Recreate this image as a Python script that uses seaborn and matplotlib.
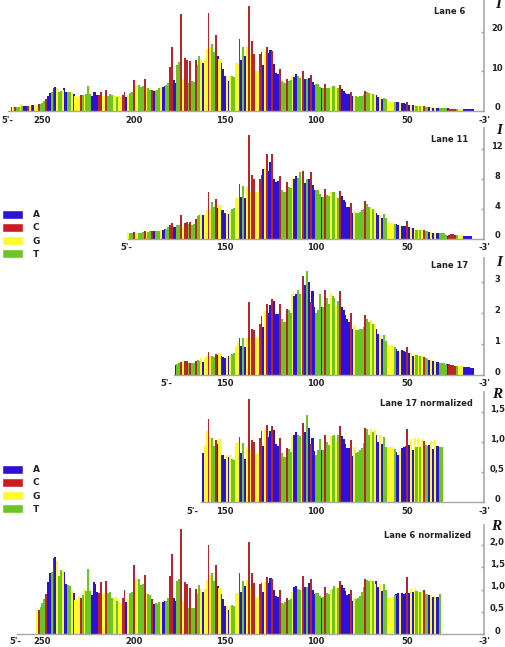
import matplotlib
matplotlib.use("Agg")
import matplotlib.pyplot as plt
from matplotlib.patches import Patch
from matplotlib.transforms import ScaledTranslation
import seaborn as sns
import pandas as pd

sns.set_theme(style="white")
plt.rcParams["font.family"] = ["DejaVu Sans"]
plt.rcParams["font.weight"] = "bold"

# sequence, one letter per nucleotide, from nt 267 down to nt 14
sequence = (
    "CGCTTGTAAC" "GCAGGCTTTC" "AATCAGTTGA" "ATTGAGGGCT" "GTTTAAAACC"
    "GGCTTTGGTG" "GCCAGTTCGG" "TTTCGTTCAT" "TTGAATTCCA" "ATTCGCCTCT"
    "TCTTGAGGCG" "TTCAGAAAGA" "GTTGGCATAG" "CGCCGGCCAG" "CAACAAACTT"
    "TCTTGAATTG" "CATACAATTT" "ATCTTGTTGT" "CAAAAACAGT" "TTTTCTTGTG"
    "AAGATTGGGG" "TAAGAAACAG" "AGTGTGCTTA" "GAGAATTTTA" "CCCCTGGGAA"
    "AAAA"
)
seq_first = 267

# intensities, first value is the nt given in *_first
lane6_first = 267
lane6 = [
    .8, .8, .8, 1.0, 1.0, 1.6, 1.1, 1.1, 1.1, 1.2,
    1.2, 1.3, 1.4, 1.4, 1.5, 1.6, 1.7, 2.0, 2.4, 2.9,
    3.6, 4.5, 4.6, 5.6, 6.0, 5.6, 4.8, 5.0, 5.1, 5.7,
    4.7, 4.7, 4.7, 4.4, 4.2, 3.6, 3.5, 3.6, 3.8, 3.9,
    4.0, 4.2, 6.2, 4.2, 3.7, 4.8, 4.6, 3.9, 3.9, 4.8,
    3.7, 3.7, 5.1, 3.7, 4.1, 3.9, 3.6, 3.6, 3.5, 3.6,
    3.5, 3.9, 4.8, 3.3, 3.9, 4.5, 4.7, 7.8, 6.3, 6.2,
    6.4, 6.0, 6.1, 8.1, 5.7, 5.6, 5.2, 5.2, 5.0, 5.0,
    5.2, 5.6, 5.6, 5.9, 6.1, 6.4, 7.0, 11.0, 16.0, 7.6,
    7.0, 11.4, 12.3, 24.5, 8.0, 13.2, 12.9, 7.0, 12.6, 7.4,
    7.2, 12.8, 11.4, 13.8, 12.7, 11.9, 12.9, 15.6, 24.6, 16.0,
    16.8, 14.9, 19.0, 13.7, 13.0, 11.9, 10.5, 8.7, 8.4, 7.4,
    8.7, 8.8, 8.6, 12.0, 12.0, 18.0, 12.9, 16.0, 13.9, 16.0,
    26.5, 14.0, 17.5, 14.2, 10.0, 10.0, 14.2, 14.7, 11.6, 14.8,
    16.1, 14.5, 15.2, 15.0, 11.7, 9.6, 9.2, 10.4, 7.4, 6.9,
    7.0, 8.0, 7.4, 7.6, 9.0, 8.6, 9.2, 8.8, 8.3, 8.4,
    9.9, 8.0, 8.0, 8.3, 9.1, 7.3, 6.4, 6.6, 6.6, 6.0,
    5.6, 5.8, 6.8, 5.8, 5.6, 6.0, 6.1, 6.2, 6.0, 5.8,
    6.4, 5.5, 4.9, 4.4, 4.3, 4.1, 4.8, 3.6, 3.7, 3.6,
    3.5, 3.6, 3.7, 4.0, 4.9, 4.6, 4.5, 4.4, 4.3, 4.0,
    3.9, 3.4, 3.3, 2.9, 3.2, 2.9, 2.3, 2.3, 2.2, 2.2,
    2.2, 2.2, 2.1, 1.9, 1.9, 1.8, 1.7, 2.1, 1.5, 1.5,
    1.3, 1.3, 1.2, 1.2, 1.1, 1.1, 1.2, .9, .9, .8,
    .8, .7, .7, .7, .7, .7, .7, .7, .7, .6,
    .5, .5, .5, .5, .4, .4, .4, .3, .3, .3,
    .3, .3, .3, .3,
]

lane11_first = 203
lane11 = [
    .8, .8, .8, .9, .8, .8,
    .8, .8, .9, 1.0, .9, .9, 1.0, 1.0, 1.0, 1.0,
    1.0, 1.0, 1.1, 1.2, 1.3, 1.3, 1.5, 1.8, 2.1, 1.5,
    1.5, 1.8, 1.8, 3.2, 1.6, 2.1, 2.2, 1.9, 2.2, 1.8,
    1.9, 2.6, 3.0, 3.2, 3.2, 3.2, 3.2, 3.9, 6.2, 4.0,
    4.9, 4.3, 5.3, 4.1, 4.5, 3.9, 3.8, 3.5, 3.3, 3.3,
    3.6, 4.0, 4.1, 5.4, 5.5, 7.4, 5.6, 7.1, 5.4, 7.0,
    14.0, 6.3, 8.5, 8.0, 6.3, 6.3, 8.0, 8.5, 9.4, 9.5,
    11.4, 9.1, 10.3, 11.4, 8.0, 7.6, 7.7, 8.4, 6.5, 6.2,
    6.2, 7.6, 7.0, 6.8, 8.2, 8.0, 8.4, 8.1, 8.9, 8.3,
    9.1, 7.5, 8.0, 8.0, 8.9, 7.2, 6.5, 6.5, 6.5, 6.0,
    5.6, 5.6, 6.7, 5.9, 5.7, 6.2, 6.2, 6.2, 5.6, 5.5,
    6.4, 5.7, 5.2, 4.9, 4.3, 4.3, 4.8, 3.5, 3.7, 3.5,
    3.5, 3.6, 3.8, 4.0, 5.0, 4.6, 4.3, 4.2, 4.0, 3.8,
    3.5, 3.1, 3.2, 2.8, 3.3, 2.7, 2.2, 2.2, 2.1, 2.1,
    2.0, 2.0, 1.8, 1.7, 1.7, 1.7, 1.7, 2.3, 1.6, 1.5,
    1.4, 1.3, 1.2, 1.2, 1.1, 1.1, 1.2, 1.0, 1.0, .9,
    .9, .8, .8, .7, .7, .7, .7, .7, .5, .4,
    .5, .6, .6, .5, .5, .4, .4, .4, .4, .4,
    .3, .3, .3,
]

lane17_first = 177
lane17 = [
    .33, .36, .38, .42, .46, .45, .46, .40, .40, .40,
    .40, .44, .50, .45, .55, .42, .55, .62, .75, .62,
    .62, .58, .68, .63, .72, .62, .58, .56, .58, .62,
    .65, .68, .70, .95, 1.05, 1.18, .92, 1.20, .90, 1.20,
    2.35, 1.20, 1.50, 1.45, 1.20, 1.20, 1.65, 1.90, 1.55, 2.05,
    2.30, 2.00, 2.25, 2.45, 2.40, 1.98, 1.98, 2.30, 1.80, 1.70,
    1.70, 2.12, 2.10, 2.00, 2.60, 2.55, 2.60, 2.75, 2.60, 2.65,
    3.20, 2.90, 3.35, 3.00, 2.35, 2.70, 2.20, 2.00, 2.10, 2.60,
    2.20, 2.20, 2.75, 2.50, 2.30, 2.65, 2.55, 2.50, 2.25, 2.40,
    2.70, 2.20, 2.10, 1.95, 1.80, 1.70, 2.00, 1.47, 1.60, 1.45,
    1.45, 1.47, 1.50, 1.55, 1.95, 1.80, 1.70, 1.78, 1.65, 1.65,
    1.50, 1.32, 1.30, 1.15, 1.30, 1.10, 1.00, .98, .97, .95,
    .90, .83, .76, .78, .80, .77, .75, .90, .70, .70,
    .60, .68, .66, .62, .60, .60, .57, .55, .52, .50,
    .47, .45, .45, .42, .42, .40, .40, .38, .32, .34,
    .34, .33, .32, .30, .30, .30, .30, .28, .27, .27,
    .26, .25, .24, .23,
]

lane17_norm_first = 162
lane17_norm = [
    .81, .95, 1.18, 1.38, 1.08,
    1.06, .93, 1.04, .96, 1.05, .79, .78, .71, .78, .75,
    .78, .71, .70, .99, 1.00, 1.08, .81, .98, .71, .92,
    1.72, .86, 1.04, 1.00, .80, .80, 1.07, 1.18, .93, 1.20,
    1.29, 1.09, 1.18, 1.27, 1.20, .96, .94, 1.07, .82, .75,
    .75, .90, .88, .84, 1.10, 1.12, 1.16, 1.12, 1.10, 1.15,
    1.32, 1.17, 1.45, 1.24, .97, 1.07, .85, .78, .87, 1.05,
    .87, .87, 1.12, 1.00, .95, 1.10, 1.10, 1.12, 1.02, 1.12,
    1.27, 1.10, 1.05, .97, .90, .90, 1.04, .77, .92, .81,
    .83, .86, .90, .98, 1.23, 1.21, 1.11, 1.22, 1.16, 1.20,
    1.12, 1.00, 1.12, .96, 1.08, .92, .90, .91, .92, .92,
    .88, .84, .78, .85, .90, .91, .93, 1.21, .95, 1.05,
    .87, 1.07, .91, 1.07, .91, 1.05, 1.02, .95, .94, .95,
    1.02, .88, 1.03, .94, .94, .92, .92,
]

lane6_norm_first = 253
lane6_norm = [
    .52, .54, .61, .70, .78, .90,
    1.17, 1.38, 1.39, 1.70, 1.73, 1.63, 1.31, 1.44, 1.41, 1.39,
    1.13, 1.10, 1.07, .97, .93, .77, .79, .85, .82, .88,
    1.02, .97, 1.47, .97, .88, 1.16, 1.13, .94, .93, 1.16,
    .90, .92, 1.20, .92, .95, .82, .79, .83, .74, .73,
    .70, .82, .99, .72, .79, .92, .94, 1.55, 1.24, 1.24,
    1.24, 1.10, 1.12, 1.33, .92, .91, .88, .79, .67, .69,
    .67, .71, .69, .71, .74, .75, .80, 1.31, 1.79, .82,
    .75, 1.18, 1.24, 2.36, .71, 1.17, 1.13, .58, 1.03, .58,
    .58, 1.01, .90, 1.09, 1.01, .95, 1.01, 1.22, 1.99, 1.33,
    1.37, 1.20, 1.54, 1.08, 1.04, .89, .78, .64, .63, .54,
    .62, .65, .63, .92, .92, 1.36, .95, 1.19, 1.07, 1.21,
    2.06, 1.04, 1.36, 1.14, .80, .80, 1.13, 1.15, .94, 1.16,
    1.28, 1.14, 1.26, 1.24, .99, .85, .83, .98, .70, .68,
    .71, .80, .77, .78, .95, 1.05, 1.07, 1.02, 1.00, 1.02,
    1.30, 1.05, 1.05, 1.15, 1.24, 1.00, .91, .92, .93, .85,
    .80, .83, 1.05, .93, .91, 1.00, 1.02, 1.08, 1.04, 1.03,
    1.20, 1.09, 1.04, .97, .87, .89, .98, .75, .80, .78,
    .80, .85, .95, 1.05, 1.24, 1.21, 1.20, 1.23, 1.19, 1.13,
    1.18, 1.05, 1.13, .97, 1.12, 1.00, .83, .81, .80, .83,
    .88, .89, .92, .88, .92, .89, .92, 1.27, .93, 1.02,
    .94, 1.03, .97, .95, .94, .95, 1.00, .91, .90, .88,
    .88, .84, .86, .83, .83, .89,
]

bases = ["A", "C", "G", "T"]
base_colors = {"A": "#2a12d6", "C": "#b8262b", "G": "#fbfb2e", "T": "#6cc524"}
legend_colors = {"A": "#2a12d6", "C": "#cc1c22", "G": "#fbfb2e", "T": "#6cc524"}
long_labels = [250, 200, 150, 100, 50]
short_labels = [150, 100, 50]
order = list(range(270, 5, -1))

W, H = 506, 647
PX_250, PX_PER_NT = 42.5, 1.825
GREY = "#a8a8a8"
TXT = "#222222"


def nt_index(nt):
    return order[0] - nt


def draw_panel(values, first, name, letter, base_px, top_px, unit_px, ticks, tick_labels,
               axis_start_nt, five_nt, nt_labels, x_pad, title_px):
    ax = fig.add_axes([0, 1 - base_px / H, 484 / W, (base_px - top_px) / H])
    ax.patch.set_alpha(0)
    nts = [first - i for i in range(len(values))]
    df = pd.DataFrame({
        "nt": nts,
        "value": values,
        "base": [sequence[seq_first - n] for n in nts],
    })

    # all bars a bit over one nt wide so they touch, C peaks go on top
    sns.barplot(data=df[df["base"] != "C"], x="nt", y="value", hue="base", order=order,
                hue_order=bases, palette=base_colors, dodge=False, width=1.15, saturation=1,
                errorbar=None, legend=False, linewidth=0, ax=ax)
    sns.barplot(data=df[df["base"] == "C"], x="nt", y="value", hue="base", order=order,
                hue_order=bases, palette=base_colors, dodge=False, width=1.0, saturation=1,
                errorbar=None, legend=False, linewidth=0, ax=ax)

    ax.set_xlim(20 - PX_250 / PX_PER_NT, 20 + (484 - PX_250) / PX_PER_NT)
    ax.set_ylim(0, (base_px - top_px) / unit_px)
    ax.set_xlabel("")
    ax.set_ylabel("")

    ax.set_xticks([nt_index(five_nt)] + [nt_index(n) for n in nt_labels] + [nt_index(8)])
    ax.set_xticklabels(["5'-"] + [str(n) for n in nt_labels] + ["-3'"])
    ax.tick_params(axis="x", length=0, pad=x_pad, labelsize=6, labelcolor=TXT)

    ax.yaxis.tick_right()
    ax.set_yticks(ticks)
    ax.set_yticklabels(tick_labels, ha="center", va="center")
    ax.tick_params(axis="y", direction="in", length=2, width=1, color=GREY, pad=9.5,
                   labelsize=6, labelcolor=TXT)
    # tick numbers sit slightly above their ticks in the original
    lift = ScaledTranslation(0, 2 / 72, fig.dpi_scale_trans)
    for label in ax.get_yticklabels():
        label.set_transform(label.get_transform() + lift)

    for side in ["left", "top"]:
        ax.spines[side].set_visible(False)
    ax.spines["right"].set_color(GREY)
    ax.spines["right"].set_linewidth(1.2)
    ax.spines["bottom"].set_color(GREY)
    ax.spines["bottom"].set_linewidth(1)
    ax.spines["bottom"].set_bounds(nt_index(axis_start_nt), ax.get_xlim()[1])

    fig.text(title_px[0] / W, 1 - title_px[1] / H, name, ha="center", va="center",
             fontsize=6, color=TXT)
    fig.text(title_px[2] / W, 1 - title_px[3] / H, letter, ha="center", va="center",
             fontsize=11, family="Liberation Serif", style="italic", color="#111111")


fig = plt.figure(figsize=(W / 100, H / 100), dpi=100)

draw_panel(lane6, lane6_first, "Lane 6", "I", 110.5, 1, 3.95,
           [0, 10, 20], ["0", "10", "20"], 269, 269, long_labels, 4, (450, 11, 498, 5))
draw_panel(lane11, lane11_first, "Lane 11", "I", 238.5, 128, 7.42,
           [0, 4, 8, 12], ["0", "4", "8", "12"], 203, 204, short_labels, 3.5, (450, 140, 499, 131))
draw_panel(lane17, lane17_first, "Lane 17", "I", 375, 258, 31,
           [0, 1, 2, 3], ["0", "1", "2", "3"], 178, 182, short_labels, 2.8, (450, 265, 499, 262))
draw_panel(lane17_norm, lane17_norm_first, "Lane 17 normalized", "R", 502, 392, 60,
           [0, .5, 1, 1.5], ["0", "0,5", "1,0", "1,5"], 163, 168, short_labels, 3.5, (426, 403, 497, 394))
draw_panel(lane6_norm, lane6_norm_first, "Lane 6 normalized", "R", 634, 525, 44.5,
           [0, .5, 1, 1.5, 2], ["0", "0,5", "1,0", "1,5", "2,0"], 264, 265, long_labels, 2.5, (428, 536, 496, 526))

handles = [Patch(facecolor=legend_colors[b], label=b) for b in bases]
for legend_top in [208, 463]:
    fig.legend(handles=handles, loc="upper left", bbox_to_anchor=(0, 1 - legend_top / H),
               frameon=False, fontsize=6.5, handlelength=2.4, handleheight=1.2,
               handletextpad=1.0, labelspacing=0.37, borderpad=0, borderaxespad=0.2,
               labelcolor=TXT)

fig.savefig("out.png", dpi=100)
